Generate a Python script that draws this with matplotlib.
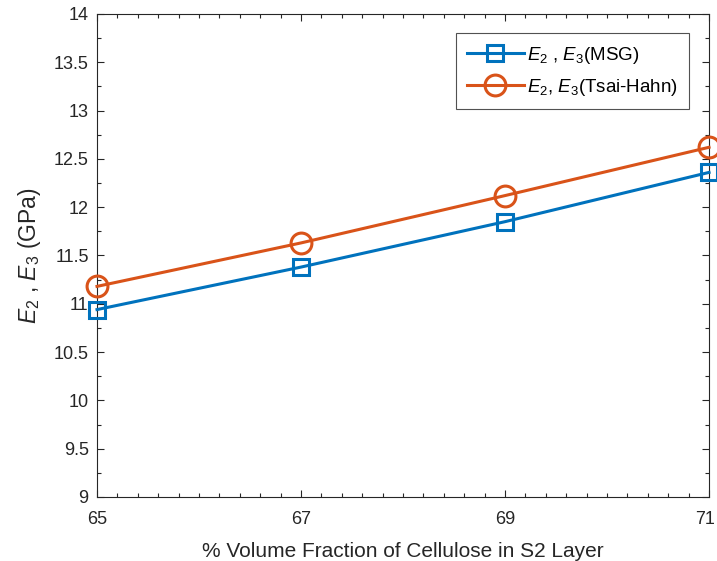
import numpy as np
import matplotlib.pyplot as plt
import matplotlib.transforms as mtransforms
from matplotlib.ticker import MultipleLocator, FormatStrFormatter

plt.rcParams['font.family'] = 'Liberation Sans'
plt.rcParams['mathtext.fontset'] = 'custom'
plt.rcParams['mathtext.rm'] = 'Liberation Sans'
plt.rcParams['mathtext.it'] = 'Liberation Sans:italic'

# volume fraction of cellulose (%) and transverse moduli (GPa)
vf = [65, 67, 69, 71]
e_msg = [10.94, 11.38, 11.85, 12.36]
e_tsai = [11.18, 11.63, 12.12, 12.62]

dark = '#262626'

fig = plt.figure(figsize=(7.17, 5.61), dpi=100)
ax = fig.add_axes([0.1353, 0.1141, 0.8536, 0.861])

ax.plot(vf, e_msg, '-s', color='#0072BD', linewidth=2.2, markersize=12,
        markerfacecolor='none', markeredgewidth=2.2, clip_on=False,
        zorder=3, label=r'$E_2$ , $E_3$(MSG)')
ax.plot(vf, e_tsai, '-o', color='#D95319', linewidth=2.2, markersize=15,
        markerfacecolor='none', markeredgewidth=2.2, clip_on=False,
        zorder=3, label=r'$E_2$, $E_3$(Tsai-Hahn)')

ax.set_xlim(65, 71)
ax.set_ylim(9, 14)
ax.set_xticks(vf)
ax.yaxis.set_major_locator(MultipleLocator(0.5))
ax.yaxis.set_major_formatter(FormatStrFormatter('%g'))
ax.xaxis.set_minor_locator(MultipleLocator(0.2))
ax.yaxis.set_minor_locator(MultipleLocator(0.25))

ax.tick_params(which='both', direction='in', top=True, right=True, colors=dark,
               labelsize=13, labelcolor=dark)
ax.tick_params(which='major', length=5, width=0.8)
ax.tick_params(which='minor', length=3, width=0.8)
ax.tick_params(axis='x', pad=10)
ax.tick_params(axis='y', pad=6)
for s in ax.spines.values():
    s.set_color(dark)
    s.set_linewidth(0.8)

# nudge the last x tick label so it stays inside the figure
fig.canvas.draw()
last = ax.get_xticklabels()[-1]
last.set_transform(last.get_transform() +
                   mtransforms.ScaledTranslation(-4 / 100, 0, fig.dpi_scale_trans))

ax.set_xlabel('% Volume Fraction of Cellulose in S2 Layer', fontsize=15, color=dark, labelpad=10)
ax.set_ylabel(r'$E_2$ , $E_3$ (GPa)', fontsize=16.5, color=dark, labelpad=8)

leg = ax.legend(loc='upper right', bbox_to_anchor=(0.968, 0.96), fontsize=13.5,
                frameon=True, fancybox=False, edgecolor=dark, handlelength=3.0,
                borderpad=0.6, labelspacing=0.6, handletextpad=0.2, borderaxespad=0)
leg.get_frame().set_linewidth(0.8)

plt.savefig('out.png', dpi=100)
